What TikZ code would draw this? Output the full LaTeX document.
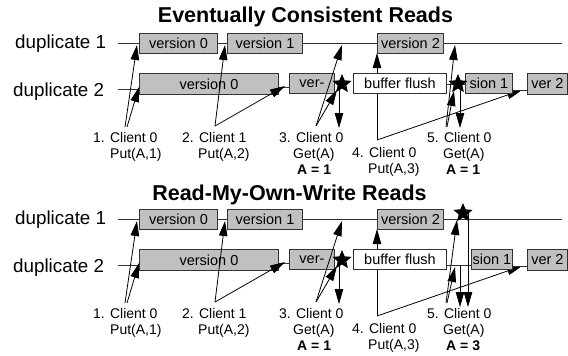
\documentclass[tikz,border=0pt]{standalone}
\usepackage{fontspec}
\setmainfont{Liberation Sans}
\usetikzlibrary{arrows.meta,shapes.geometric}

\definecolor{linegray}{HTML}{333333}
\definecolor{boxgray}{HTML}{C0C0C0}

\tikzset{
  tl/.style={draw=linegray, line width=0.9pt},
  vbox/.style={draw=linegray, fill=boxgray, line width=0.9pt, inner sep=0pt,
    anchor=north west, minimum height=20pt, font=\fontsize{14.5}{16}\selectfont},
  wbox/.style={vbox, fill=white},
  arr/.style={-{Triangle[length=15pt,width=8.5pt]}, line width=0.8pt, draw=black},
  lbl/.style={anchor=base west, inner sep=0pt, font=\fontsize{14}{16}\selectfont},
  lblb/.style={lbl, font=\fontsize{14}{16}\selectfont\bfseries},
  duplbl/.style={anchor=base west, inner sep=0pt, font=\fontsize{18.8}{20}\selectfont},
  ttl/.style={anchor=base, inner sep=0pt, font=\fontsize{21.5}{24}\selectfont\bfseries},
  starmark/.style={star, star points=5, star point ratio=2.2, fill=black,
    draw=none, minimum size=20pt, inner sep=0pt},
}

% Timelines, boxes, clients 1-4 and the first read: the same in both panels
\newcommand\sharedparts{%
  \node[duplbl] (d1) at (15,48) {duplicate 1};
  \node[duplbl] (d2) at (13,96) {duplicate 2};
  \coordinate (d1s) at (118,43);
  \coordinate (d1e) at (562,43);
  \coordinate (d2s) at (118,89);
  \draw[tl] (d1s) -- (d1e);
  % the write of client 0 runs under the buffer box
  \coordinate (o4) at (377,140);
  \coordinate (h4a) at (377,53);
  \coordinate (h4b) at (522,90);
  \draw[arr] (o4) -- (h4a);
  \node[vbox, minimum width=78pt] (a0) at (139,33) {version 0};
  \node[vbox, minimum width=75pt] (a1) at (227,33) {version 1};
  \node[vbox, minimum width=66pt] (a2) at (377,33) {version 2};
  \node[vbox, minimum width=139pt, minimum height=21pt] (b0) at (139,73) {version 0};
  \node[vbox, minimum width=45pt] (b1) at (289,73) {ver-};
  \node[wbox, minimum width=93pt] (bf) at (353,73) {buffer flush};
  \node[vbox, minimum width=40pt, minimum height=21pt] (bv) at (527,73) {ver 2};
  \draw[tl] (d2s) -- (d2s -| b0.west);
  \draw[tl] ([yshift=-3.5pt]b0.east) -- ([yshift=-3.5pt]b0.east -| b1.west);
  % client labels
  \node[lbl] (c1a) at (93,142) {1. Client 0};
  \node[lbl] (c1b) at (110,158.5) {Put(A,1)};
  \node[lbl] (c2a) at (182,142) {2. Client 1};
  \node[lbl] (c2b) at (198,158.5) {Put(A,2)};
  \node[lbl] (c3a) at (279,142) {3. Client 0};
  \node[lbl] (c3b) at (293,158) {Get(A)};
  \node[lblb] (c3c) at (297,174) {A = 1};
  \node[lbl] (c4a) at (352,157) {4. Client 0};
  \node[lbl] (c4b) at (368,173) {Put(A,3)};
  \node[lbl] (c5a) at (427,142) {5. Client 0};
  \node[lbl] (c5b) at (443,158) {Get(A)};
  % client 0 puts A=1
  \coordinate (o1a) at (125,127);
  \coordinate (o1b) at (127,127);
  \coordinate (h1a) at (137,45);
  \coordinate (h1b) at (139,87);
  \draw[arr] (o1a) -- (h1a);
  \draw[arr] (o1b) -- (h1b);
  % client 1 puts A=2
  \coordinate (o2) at (215,126);
  \coordinate (h2a) at (225,45);
  \coordinate (h2b) at (285,86);
  \draw[arr] (o2) -- (h2a);
  \draw[arr] (o2) -- (h2b);
  % client 0 reads A
  \node[starmark] (s1) at (342,84) {};
  \coordinate (o3) at (316,126);
  \coordinate (h3a) at (342,45);
  \coordinate (h3b) at (337,90);
  \coordinate (h3c) at (339,128);
  \draw[arr] (o3) -- (h3a);
  \draw[arr] (o3) -- (h3b);
  \draw[arr] (s1.center -| h3c) -- (h3c);
  % client 0 puts A=3
  \draw[arr] (o4) -- (h4b);
}

\begin{document}
\begin{tikzpicture}[x=1pt,y=-1pt]
\useasboundingbox (0,0) rectangle (568,356);

% ---------- eventually consistent reads ----------
\node[ttl] (title1) at (305.5,23) {Eventually Consistent Reads};
\begin{scope}[name prefix=top-]
  \sharedparts
  \node[vbox, minimum width=47pt] (bs) at (465,73) {sion 1};
  \draw[tl] ([yshift=-1pt]bf.east) -- ([yshift=-1pt]bf.east -| bs.west);
  \draw[tl] ([yshift=-7pt]bs.east) -- ([yshift=-7pt]bs.east -| bv.west);
  \node[lblb] (c5c) at (446,174) {A = 1};
  \node[starmark] (s2) at (458,84) {};
  \coordinate (o5a) at (446,127);
  \coordinate (o5b) at (447,127);
  \coordinate (h5a) at (455,45);
  \coordinate (h5b) at (454,91);
  \coordinate (h5c) at (460,128);
  \draw[arr] (o5a) -- (h5a);
  \draw[arr] (o5b) -- (h5b);
  \draw[arr] (s2.center -| h5c) -- (h5c);
\end{scope}

% ---------- read-my-own-write reads ----------
\node[ttl] (title2) at (289.5,200) {Read-My-Own-Write Reads};
\begin{scope}[name prefix=bot-, yshift=-176pt]
  \sharedparts
  \node[vbox, minimum width=41pt] (bs) at (471,73) {sion 1};
  \draw[tl] ([yshift=-6pt]bf.east) -- ([yshift=-6pt]bf.east -| bs.west);
  \draw[tl] ([yshift=-7pt]bs.east) -- ([yshift=-7pt]bs.east -| bv.west);
  \node[lblb] (c5c) at (446,174) {A = 3};
  \node[starmark] (s2) at (463,37) {};
  \coordinate (o5a) at (446,127);
  \coordinate (o5b) at (447,127);
  \coordinate (h5a) at (457,44);
  \coordinate (h5b) at (455,91);
  \coordinate (t5c) at (460,89);
  \coordinate (h5c) at (460,131);
  \coordinate (h5d) at (468,131);
  \draw[arr] (o5a) -- (h5a);
  \draw[arr] (o5b) -- (h5b);
  \draw[arr] (t5c) -- (h5c);
  \draw[arr] (s2.center -| h5d) -- (h5d);
\end{scope}
\end{tikzpicture}
\end{document}
